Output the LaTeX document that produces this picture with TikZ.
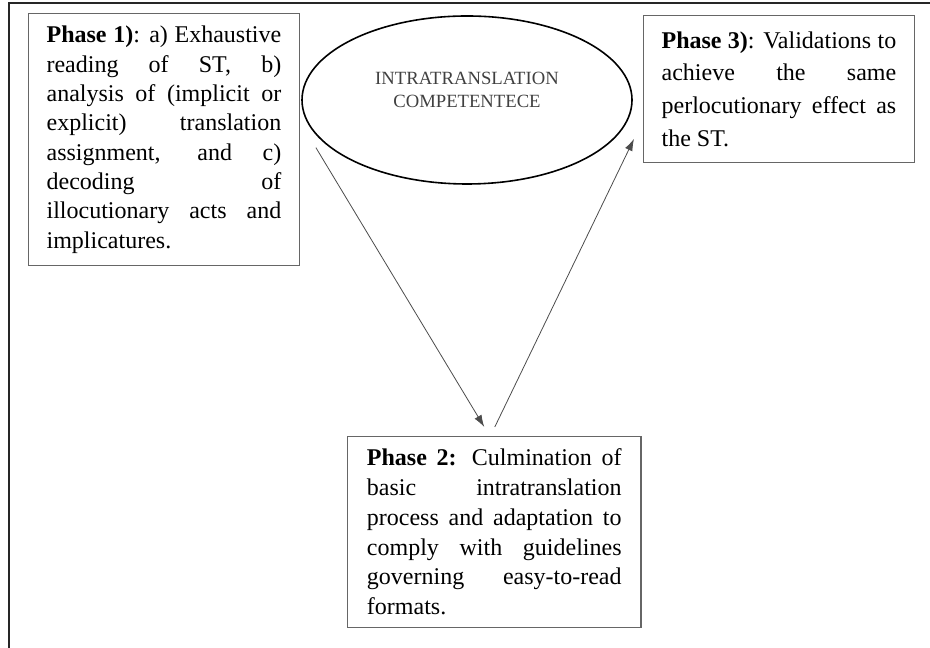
\documentclass[tikz,border=0pt]{standalone}
\usepackage{fontspec}
\setmainfont{Liberation Serif}
\usetikzlibrary{arrows.meta,shapes.geometric,calc}

\begin{document}
\begin{tikzpicture}[x=0.75pt,y=0.75pt,
        phasebox/.style={draw=black!60, line width=0.9pt, align=justify,
            text width=176pt, inner xsep=13.5pt, inner ysep=0pt, anchor=north west,
            font=\fontsize{18}{22}\selectfont,
            execute at begin node={\tolerance=10000\relax}},
        flow/.style={draw=black!70, line width=0.6pt, -{Latex[length=9pt,width=6pt]}}]
        \useasboundingbox (0,0) rectangle (930,648);
        % frame of the figure
        \draw[line width=2pt, black!85] (9,0) -- (9,645) -- (930,645);

        \node[phasebox, minimum height=189pt] (ph1) at (28,635)
        {\textbf{Phase 1)}: a) Exhaustive\linebreak
        reading of ST, b)\linebreak
        analysis of (implicit or\linebreak
        explicit) translation\linebreak
        assignment, and c)\linebreak
        decoding of\linebreak
        illocutionary acts and\linebreak
        implicatures.};

        \node[phasebox, minimum height=110pt,
            font=\fontsize{18}{24.5}\selectfont] (ph3) at (643,633)
        {\textbf{Phase 3)}: Validations to\linebreak
        achieve the same\linebreak
        perlocutionary effect as\linebreak
        the ST.};

        \node[phasebox, minimum height=143pt, text width=191pt, inner xsep=14.5pt,
            font=\fontsize{18}{22.3}\selectfont] (ph2) at (347,212)
        {\textbf{Phase 2:} Culmination of\linebreak
        basic intratranslation\linebreak
        process and adaptation to\linebreak
        comply with guidelines\linebreak
        governing easy-to-read\linebreak
        formats.};

        \node[ellipse, draw, line width=1.2pt, minimum width=247.5pt,
            minimum height=126pt, inner sep=0pt] (comp) at (467,548) {};
        \node[font=\fontsize{14}{17.5}\selectfont, text=black!75, align=center]
            (comptxt) at ($(comp.center)+(0,10)$) {INTRATRANSLATION\\COMPETENTECE};

        \coordinate (ph1out) at ($(ph1.east)+(16,-8)$);
        \coordinate (ph2in) at ($(ph2.north)+(-10,9)$);
        \coordinate (ph2out) at ($(ph2.north)+(0.5,9)$);
        \coordinate (ph3in) at ($(ph3.south west)+(-9,24)$);
        \draw[flow] (ph1out) -- (ph2in);
        \draw[flow] (ph2out) -- (ph3in);
\end{tikzpicture}
\end{document}
